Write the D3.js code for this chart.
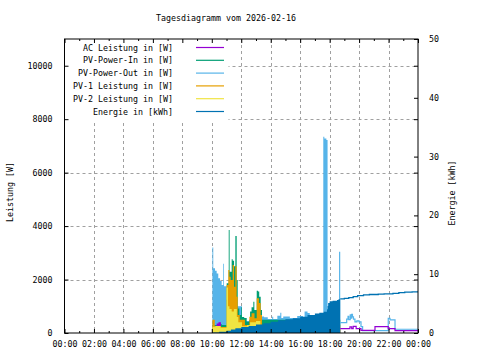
<!DOCTYPE html>
<html><head><meta charset="utf-8">
<script src="https://cdn.jsdelivr.net/npm/d3@7"></script>
<style>
html,body{margin:0;padding:0;background:#fff;}
svg{display:block;}
text{font-family:"DejaVu Sans Mono","Liberation Mono",monospace;font-size:8.3px;fill:#000;}
</style></head>
<body>
<script>
// ---------- data (hours of day, values) ----------
const title = "Tagesdiagramm vom 2026-02-16";
const xTickHours = [0,2,4,6,8,10,12,14,16,18,20,22,24];
const xTickLabels = ["00:00","02:00","04:00","06:00","08:00","10:00","12:00","14:00","16:00","18:00","20:00","22:00","00:00"];
const yLeftTicks = [0,2000,4000,6000,8000,10000];
const yRightTicks = [0,10,20,30,40,50];
const legendLabels = ["AC Leistung in [W]","PV-Power-In in [W]","PV-Power-Out in [W]","PV-1 Leistung in [W]","PV-2 Leistung in [W]","Energie in [kWh]"];

// PV-Power-Out [W]
const pvOutT = [10.04,10.10,10.22,10.33,10.44,10.56,10.67,10.78,10.83,11.01,11.12,12.05,12.30,12.60,13.30,13.55,13.80,14.10,14.17,14.45,14.65,14.72,14.85,15.30,15.80,16.20,16.30,16.50,16.65,17.00,17.30,17.57,17.64,17.78,17.86,18.64,18.72,19.16,19.25,19.30,19.40,19.45,19.50,19.55,19.62,19.72,19.85,20.00,20.13,20.24,21.98,22.10,22.44];
const pvOutV = [3200,2420,2330,2230,2050,1950,1800,2590,1750,1240,1000,520,450,600,620,590,520,610,520,650,760,560,620,560,640,600,800,750,650,650,700,7340,7280,7220,900,3040,385,520,620,500,680,560,700,600,520,420,450,420,235,90,550,490,140];
// PV-Power-In [W]
const pvInT = [10.04,10.56,10.67,11.01,11.15,11.21,11.35,11.42,11.51,11.60,11.69,11.76,11.87,12.00,12.05,12.20,12.37,12.55,12.60,12.70,12.82,12.89,13.05,13.14,13.22,13.32,13.41];
const pvInV = [300,340,300,1860,3850,2290,2760,2700,2500,3630,1980,920,670,960,600,560,420,500,800,960,1170,860,1580,1550,1360,860,500];
// AC Leistung [W]
const acT = [10.04,10.33,10.45,10.62,11.00,18.72,19.38,19.50,19.60,19.80,20.13,21.08,21.98,22.44];
const acV = [120,360,400,150,100,160,230,160,250,160,100,235,160,90];
// PV-1 Leistung [W]
const pv1T = [10.04,10.20,10.60,11.01,11.12,11.20,11.28,11.42,11.51,11.60,11.69,11.76,11.90,12.25,12.55,12.70,12.90,13.05,13.20,13.32,13.41];
const pv1V = [500,260,220,1800,2360,2100,1980,2540,1730,2500,1360,670,500,300,610,740,550,1300,1120,670,300];
// PV-2 Leistung [W]
const pv2T = [10.04,10.25,10.60,11.00,11.10,11.20,11.35,11.50,11.70,11.80,12.05,12.40,12.60,13.00,13.30,13.41];
const pv2V = [230,260,200,1700,1000,900,800,900,600,400,250,300,400,450,300,200];
// Energie [kWh]
const energyT = [10.04,10.50,11.00,11.30,11.60,12.00,12.50,13.00,13.50,14.00,14.50,15.00,15.50,16.00,16.50,17.00,17.30,17.60,17.82,17.86,17.90,18.00,18.20,18.50,18.60,18.72,19.00,19.30,19.60,19.90,20.30,20.70,21.30,21.70,22.30,22.70,23.10,23.60];
const energyV = [0.1,0.2,0.4,0.6,0.8,1.0,1.2,1.45,1.65,1.9,2.15,2.35,2.5,2.75,3.05,3.3,3.45,3.6,4.0,4.6,5.1,5.4,5.5,5.6,5.75,5.8,5.9,6.0,6.2,6.35,6.5,6.55,6.6,6.65,6.75,6.85,6.95,7.0];

const colors = {ac:"#9400d3", pvIn:"#009e73", pvOut:"#56b4e9", pv1:"#e69f00", pv2:"#f0e442", energy:"#0072b2"};

// ---------- layout ----------
const W = 480, H = 360;
const L = 64.5, R = 418, T = 39, B = 333;
const dayEnd = 18.72, dayEndAll = 24;

const svg = d3.select("body").append("svg").attr("width", W).attr("height", H);
const x = d3.scaleLinear().domain([0,24]).range([L,R]);
const yL = d3.scaleLinear().domain([0,11000]).range([B,T]);
const yR = d3.scaleLinear().domain([0,50]).range([B,T]);

// grid
const grid = svg.append("g").attr("stroke","#a0a0a0").attr("stroke-width",1).attr("stroke-dasharray","3,3");
xTickHours.slice(1,-1).forEach(h => grid.append("line").attr("x1",Math.round(x(h))+0.5).attr("x2",Math.round(x(h))+0.5).attr("y1",T).attr("y2",B));
yLeftTicks.slice(1).forEach(v => grid.append("line").attr("x1",L).attr("x2",R).attr("y1",Math.round(yL(v))+0.5).attr("y2",Math.round(yL(v))+0.5));

// legend background (opaque key)
svg.append("rect").attr("x",L+0.5).attr("y",T+0.5).attr("width",228-L).attr("height",120.5-T).attr("fill","#fff");

// helpers
function pts(T_, V_, from, to) {
  const p = [];
  for (let i = 0; i < T_.length; i++) if (T_[i] >= from && T_[i] < to) p.push([T_[i], V_[i]]);
  if (p.length) p.push([to, p[p.length-1][1]]);
  return p;
}
const areaL = d3.area().x(d=>x(d[0])).y0(yL(0)).y1(d=>yL(d[1])).curve(d3.curveStepAfter);
const areaR = d3.area().x(d=>x(d[0])).y0(yR(0)).y1(d=>yR(d[1])).curve(d3.curveStepAfter);
const lineL = d3.line().x(d=>x(d[0])).y(d=>yL(d[1])).curve(d3.curveStepAfter);
const lineR = d3.line().x(d=>x(d[0])).y(d=>yR(d[1])).curve(d3.curveStepAfter);

const plot = svg.append("g");
// filled (daytime) boxes
plot.append("path").attr("d", areaL(pts(pvOutT,pvOutV,0,dayEnd))).attr("fill",colors.pvOut);
plot.append("path").attr("d", areaL(pts(pvInT,pvInV,0,dayEnd))).attr("fill",colors.pvIn);
plot.append("path").attr("d", areaL(pts(acT,acV,0,dayEnd))).attr("fill",colors.ac);
plot.append("path").attr("d", areaL(pts(pv1T,pv1V,0,dayEnd))).attr("fill",colors.pv1);
plot.append("path").attr("d", areaL(pts(pv2T,pv2V,0,dayEnd))).attr("fill",colors.pv2);
plot.append("path").attr("d", areaR(pts(energyT,energyV,0,dayEnd))).attr("fill",colors.energy);
// evening lines
plot.append("path").attr("d", lineL(pts(pvOutT,pvOutV,dayEnd,dayEndAll))).attr("fill","none").attr("stroke",colors.pvOut).attr("stroke-width",1.2);
plot.append("path").attr("d", lineL(pts(acT,acV,dayEnd,dayEndAll))).attr("fill","none").attr("stroke",colors.ac).attr("stroke-width",1.2);
plot.append("path").attr("d", lineR(pts(energyT,energyV,dayEnd-0.02,dayEndAll))).attr("fill","none").attr("stroke",colors.energy).attr("stroke-width",1.3);

// axes
function clean(g){ g.select(".domain").remove(); g.selectAll("line").attr("stroke","#000"); }
svg.append("g").attr("transform",`translate(0,${B})`)
  .call(d3.axisBottom(x).tickValues(xTickHours).tickSize(-4).tickPadding(0).tickFormat((d,i)=>xTickLabels[i]))
  .call(clean)
  .call(g=>g.selectAll("text").attr("y",14).attr("dy",null).style("font-size","8.3px").style("font-family",null));
svg.append("g").attr("transform",`translate(0,${B})`)
  .call(d3.axisBottom(x).tickValues(d3.range(1,24,2)).tickSize(-2).tickFormat(""))
  .call(clean);
svg.append("g").attr("transform",`translate(0,${T})`)
  .call(d3.axisTop(x).tickValues(xTickHours).tickSize(-4).tickFormat(""))
  .call(clean);
svg.append("g").attr("transform",`translate(0,${T})`)
  .call(d3.axisTop(x).tickValues(d3.range(1,24,2)).tickSize(-2).tickFormat(""))
  .call(clean);
svg.append("g").attr("transform",`translate(${L},0)`)
  .call(d3.axisLeft(yL).tickValues(yLeftTicks).tickSize(-4).tickPadding(12).tickFormat(d3.format("d")))
  .call(clean)
  .call(g=>g.selectAll("text").attr("dy","0.3em").style("font-size","8.3px").style("font-family",null));
svg.append("g").attr("transform",`translate(${R},0)`)
  .call(d3.axisRight(yL).tickValues(yLeftTicks).tickSize(-4).tickFormat(""))
  .call(clean);
svg.append("g").attr("transform",`translate(${R},0)`)
  .call(d3.axisRight(yR).tickValues(yRightTicks).tickSize(-4).tickPadding(11).tickFormat(d3.format("d")))
  .call(clean)
  .call(g=>g.selectAll("text").attr("dy","0.3em").style("font-size","8.3px").style("font-family",null));

// border
svg.append("rect").attr("x",L).attr("y",T).attr("width",R-L).attr("height",B-T).attr("fill","none").attr("stroke","#000").attr("stroke-width",1);

// titles
svg.append("text").attr("x",226).attr("y",21).attr("text-anchor","middle").text(title);
svg.append("text").attr("transform","translate(13,192) rotate(-90)").attr("text-anchor","middle").text("Leistung [W]");
svg.append("text").attr("transform","translate(455,193) rotate(-90)").attr("text-anchor","middle").text("Energie [kWh]");

// legend
const legColors = [colors.ac, colors.pvIn, colors.pvOut, colors.pv1, colors.pv2, colors.energy];
legendLabels.forEach((lab,i) => {
  const yy = 47.5 + i*12.8;
  svg.append("text").attr("x",173).attr("y",yy+3).attr("text-anchor","end").text(lab);
  svg.append("line").attr("x1",196).attr("x2",224).attr("y1",yy).attr("y2",yy).attr("stroke",legColors[i]).attr("stroke-width",1.2);
});
</script>
</body></html>
